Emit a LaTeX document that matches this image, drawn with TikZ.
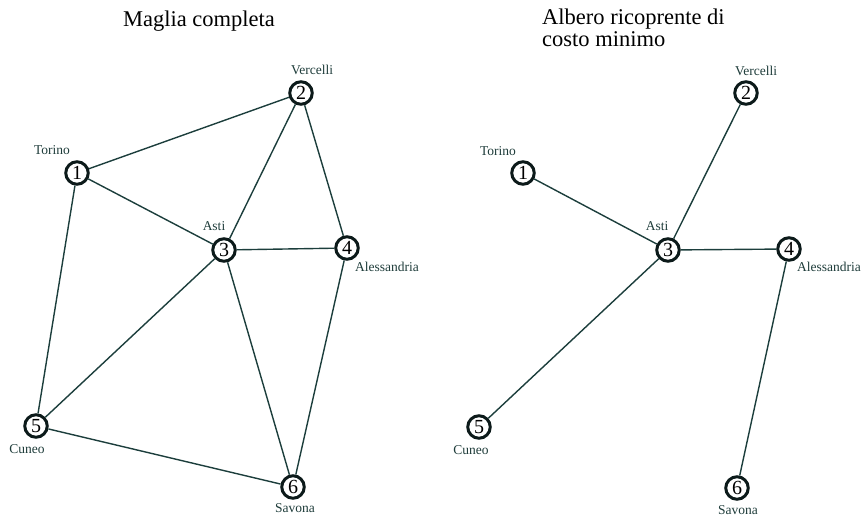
\documentclass[tikz,border=0pt]{standalone}
\usepackage{fontspec}
\setmainfont{Liberation Serif}
\usepackage{tikz}
\definecolor{linkcol}{RGB}{28,62,60}
\definecolor{textcol}{RGB}{30,60,58}
\definecolor{ringcol}{RGB}{12,26,26}

\begin{document}
\begin{tikzpicture}[x=1pt,y=-1pt,
% city nodes and labels
city/.style={circle,draw=ringcol,line width=3pt,minimum size=22.5pt,inner sep=0pt,
  font=\fontsize{20}{20}\selectfont},
lbl/.style={text=textcol,inner sep=0pt,font=\fontsize{13.5}{14}\selectfont},
link/.style={draw=linkcol,line width=1.4pt},
title/.style={text=black,inner sep=0pt,anchor=base,font=\fontsize{22.5}{22}\selectfont}]
\useasboundingbox (0,0) rectangle (862,518);
% titles
\node[title] (tA) at (199,27) {Maglia completa};
\node[title,anchor=base west,align=left] (tB) at (542,47) {Albero ricoprente di\\costo minimo};
% left graph
\node[city] (a1) at (77,173) {1};
\node[city] (a2) at (301,93) {2};
\node[city] (a3) at (224,250) {3};
\node[city] (a4) at (347,248) {4};
\node[city] (a5) at (36,426) {5};
\node[city] (a6) at (293,487) {6};
\node[lbl] (la1) at (52,150) {Torino};
\node[lbl] (la2) at (312,70) {Vercelli};
\node[lbl] (la3) at (214,226) {Asti};
\node[lbl] (la4) at (387,267) {Alessandria};
\node[lbl] (la5) at (27,449) {Cuneo};
\node[lbl] (la6) at (295,508) {Savona};
\foreach \u/\v in {1/2,1/3,1/5,2/3,2/4,3/4,3/5,3/6,4/6,5/6}
  \draw[link] (a\u) -- (a\v);
% right graph
\node[city] (b1) at (523,173) {1};
\node[city] (b2) at (746,93) {2};
\node[city] (b3) at (668,250) {3};
\node[city] (b4) at (789,249) {4};
\node[city] (b5) at (479,427) {5};
\node[city] (b6) at (737,488) {6};
\node[lbl] (lb1) at (498,151) {Torino};
\node[lbl] (lb2) at (756,71) {Vercelli};
\node[lbl] (lb3) at (657,226) {Asti};
\node[lbl] (lb4) at (829,267) {Alessandria};
\node[lbl] (lb5) at (471,450) {Cuneo};
\node[lbl] (lb6) at (738,510) {Savona};
\foreach \u/\v in {1/3,2/3,3/4,3/5,4/6}
  \draw[link] (b\u) -- (b\v);
\end{tikzpicture}
\end{document}
